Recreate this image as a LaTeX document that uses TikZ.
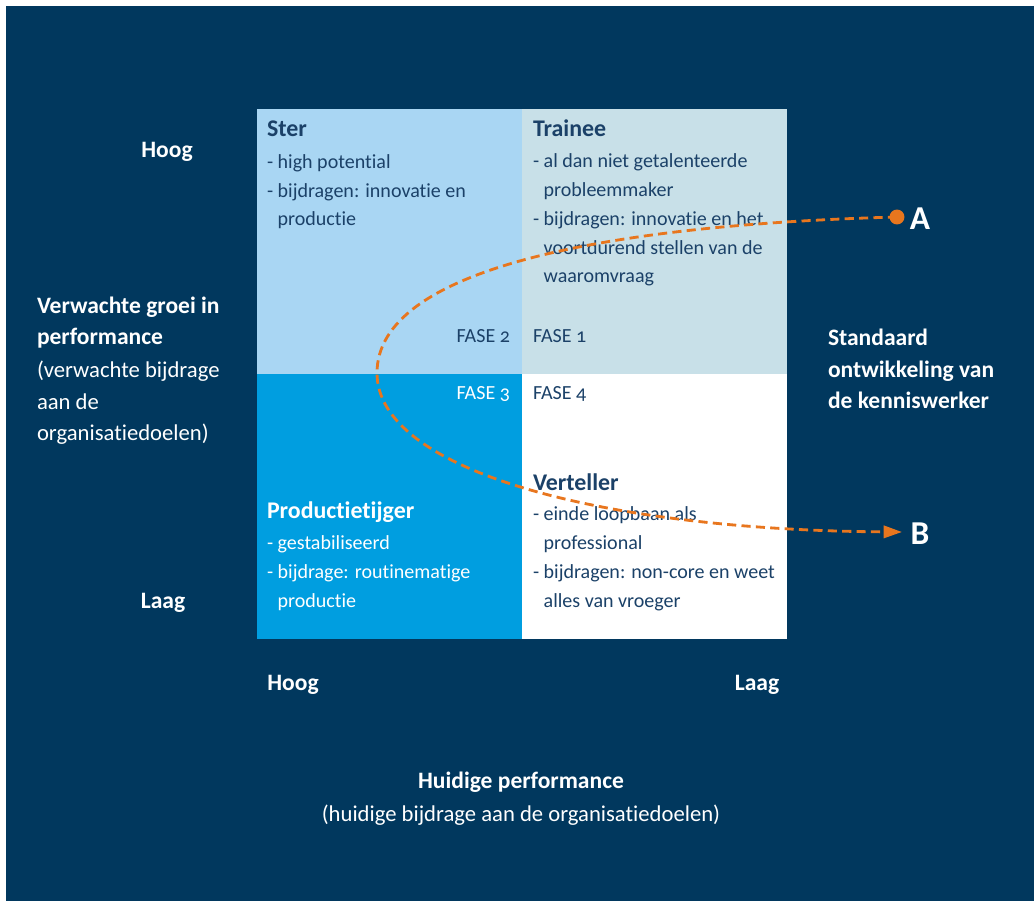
\documentclass[tikz,border=0pt]{standalone}
\usepackage{fontspec}
\setmainfont{Carlito}[Ligatures=NoCommon]
\usetikzlibrary{arrows.meta,positioning}
\definecolor{navy}{HTML}{01385E}
\definecolor{sterblue}{HTML}{A9D6F3}
\definecolor{traineeblue}{HTML}{C8E0E8}
\definecolor{tijgerblue}{HTML}{009EE0}
\definecolor{ink}{HTML}{1B4168}
\definecolor{oranje}{HTML}{E8761E}

\begin{document}
\begin{tikzpicture}[x=0.02cm,y=-0.02cm,
    every node/.style={inner sep=0pt,outer sep=0pt},
    boxtitle/.style={anchor=base west,font=\fontsize{13.6}{16}\selectfont\bfseries},
    boxtext/.style={anchor=base west,align=left,font=\fontsize{11.4}{16.4}\selectfont},
    axistext/.style={text=white,align=left,font=\fontsize{12.9}{18.1}\selectfont},
    axisbold/.style={text=white,align=left,font=\fontsize{13.4}{18.1}\selectfont\bfseries},
    fase/.style={font=\fontsize{11.4}{13}\selectfont\addfontfeatures{Numbers=OldStyle}},
    letter/.style={anchor=base,text=white,font=\fontsize{19}{22}\selectfont\bfseries},
    dot/.style={circle,fill=oranje,minimum size=8.5pt},
    route/.style={oranje,line width=1.6pt,dash pattern=on 5.2pt off 3pt,
        -{Triangle[length=10.5pt,width=7pt]}}
    ]

    % background with a thin white margin
    \useasboundingbox (0,0) rectangle (1034,901);
    \fill[navy] (6,6) rectangle (1034,901);

    % the four quadrants
    \fill[sterblue] (257,109) rectangle (522,374);
    \fill[traineeblue] (522,109) rectangle (787,374);
    \fill[tijgerblue] (257,374) rectangle (522,639);
    \fill[white] (522,374) rectangle (787,639);

    % Ster (multi-line nodes sit on the baseline of their last line)
    \node[boxtitle,text=ink] (ster) at (267,137) {Ster};
    \node[boxtext,text=ink] (stertext) at (267,226)
        {- high potential\\- bijdragen: innovatie en\\\hphantom{- }productie};

    % Trainee
    \node[boxtitle,text=ink] (trainee) at (533,137) {Trainee};
    \node[boxtext,text=ink] (traineetext) at (533,283)
        {- al dan niet getalenteerde\\\hphantom{- }probleemmaker\\- bijdragen: innovatie en het\\\hphantom{- }voortdurend stellen van de\\\hphantom{- }waaromvraag};

    % Productietijger
    \node[boxtitle,text=white] (tijger) at (267,519) {Productietijger};
    \node[boxtext,text=white] (tijgertext) at (267,607)
        {- gestabiliseerd\\- bijdrage: routinematige\\\hphantom{- }productie};

    % Verteller
    \node[boxtitle,text=ink] (verteller) at (533,491) {Verteller};
    \node[boxtext,text=ink] (vertellertext) at (533,607)
        {- einde loopbaan als\\\hphantom{- }professional\\- bijdragen: non-core en weet\\\hphantom{- }alles van vroeger};

    % phases
    \node[fase,text=ink,anchor=base east] (fase2) at (510,343) {FASE 2};
    \node[fase,text=ink,anchor=base west] (fase1) at (533,343) {FASE 1};
    \node[fase,text=white,anchor=base east] (fase3) at (510,400) {FASE 3};
    \node[fase,text=ink,anchor=base west] (fase4) at (533,400) {FASE 4};

    % vertical axis
    \node[axisbold,anchor=base] (hooglinks) at (167,158) {Hoog};
    \node[axisbold,anchor=base] (laaglinks) at (163,608) {Laag};
    \node[axisbold,anchor=base west] (groei) at (37,345)
        {Verwachte groei in\\performance};
    \node[axistext,anchor=base west] (groeisub) at (37,441)
        {(verwachte bijdrage\\aan de\\organisatiedoelen)};

    % horizontal axis
    \node[axisbold,anchor=base] (hoogonder) at (293,690) {Hoog};
    \node[axisbold,anchor=base] (laagonder) at (757,690) {Laag};
    \node[axisbold,anchor=base] (huidig) at (521,788) {Huidige performance};
    \node[axistext,anchor=base] (huidigsub) at (521,821) {(huidige bijdrage aan de organisatiedoelen)};

    % standard route of the knowledge worker
    \node[axisbold,anchor=base west] (standaard) at (828,409)
        {Standaard\\ontwikkeling van\\de kenniswerker};
    \node[letter] (a) at (920,230) {A};
    \node[letter] (b) at (920,545) {B};
    \node[dot] (adot) at (897,217) {};
    \coordinate (keer) at (377,373);
    \coordinate (btip) at (902,532);

    \draw[route] (adot.center) .. controls (600,225) and (377,270) .. (keer)
        .. controls (377,470) and (600,530) .. (btip);
\end{tikzpicture}
\end{document}
